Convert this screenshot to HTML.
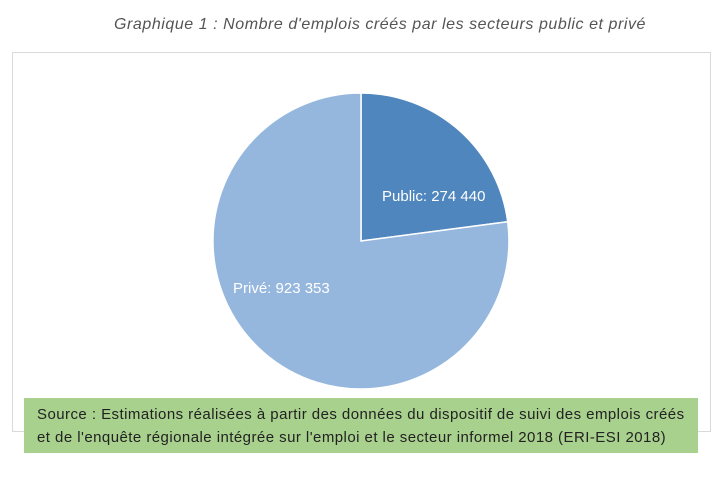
<!DOCTYPE html>
<html><head><meta charset="utf-8"><style>
body{margin:0;width:720px;height:483px;background:#fff;position:relative;overflow:hidden;font-family:"Liberation Sans",sans-serif}
.t{position:absolute;left:0;width:760px;top:16px;text-align:center;font-style:italic;color:#555;font-size:16px;letter-spacing:0.55px}
.f{position:absolute;left:12px;top:52px;width:699px;height:380px;border:1px solid #d9d9d9;box-sizing:border-box}
.s{position:absolute;left:24px;top:398px;width:674px;height:55px;background:#a9d18e;font-size:15px;letter-spacing:0.45px;color:#222;padding:5px 0 0 13px;box-sizing:border-box;line-height:23px;white-space:nowrap}
</style></head><body>
<div class="t">Graphique 1 : Nombre d'emplois créés par les secteurs public et privé</div>
<div class="f"></div>
<svg style="position:absolute;left:0;top:0" width="720" height="483">
<path d="M361 241 L361 93 A148 148 0 0 1 507.7 221.7 Z" fill="#4f86bd" stroke="#fff" stroke-width="1.5"/>
<path d="M361 241 L507.7 221.7 A148 148 0 1 1 361 93 Z" fill="#95b7de" stroke="#fff" stroke-width="1.5"/>
<text x="382" y="201" fill="#fff" font-size="15" font-family="Liberation Sans">Public: 274 440</text>
<text x="233" y="293" fill="#fff" font-size="15" font-family="Liberation Sans">Privé: 923 353</text>
</svg>
<div class="s">Source : Estimations réalisées à partir des données du dispositif de suivi des emplois créés<br>et de l'enquête régionale intégrée sur l'emploi et le secteur informel 2018 (ERI-ESI 2018)</div>
</body></html>
